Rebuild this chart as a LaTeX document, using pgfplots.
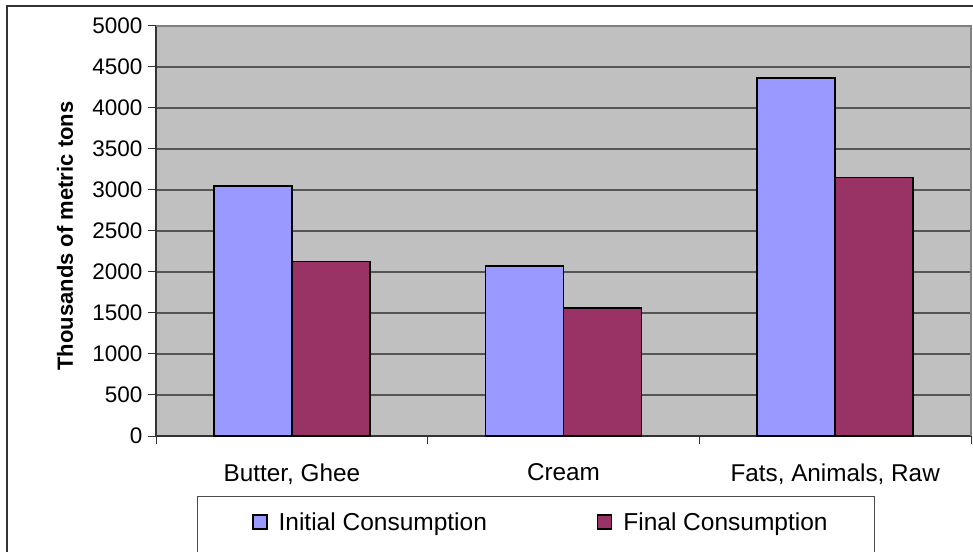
\documentclass[border=0pt]{standalone}
\usepackage{pgfplots}
\pgfplotsset{compat=1.18}
\usepackage{fontspec}
\setmainfont{Liberation Sans}
\definecolor{plotbg}{HTML}{C0C0C0}
\definecolor{ibl}{HTML}{9999FF}
\definecolor{fmar}{HTML}{993366}
\definecolor{gridc}{HTML}{555555}
\begin{document}
\begin{tikzpicture}[x=1pt,y=1pt]
\useasboundingbox (0,0) rectangle (973,551);
% outer chart frame
\draw[line width=1.3pt, color=black!80] (7,-5) -- (7,545) -- (980,545);
% legend frame
\draw[line width=1pt, color=black!70] (197,-5) rectangle (874,55);
\begin{axis}[
  at={(156pt,115pt)}, anchor=south west,
  width=815pt, height=410pt, scale only axis,
  xmin=-0.5, xmax=2.5, ymin=0, ymax=5000,
  ybar=0pt, bar width=78pt,
  xtick={0,1,2},
  xticklabels={{Butter, Ghee},{Cream},{Fats, Animals, Raw}},
  minor xtick={-0.5,0.5,1.5,2.5},
  ytick={0,500,...,5000},
  xtick pos=left, ytick pos=left,
  tick align=outside,
  major tick length=8pt, minor tick length=8pt,
  major x tick style={draw=none},
  tick style={line width=1pt, color=black!80},
  axis background/.style={fill=plotbg},
  axis line style={line width=1.3pt, color=black!80},
  ymajorgrids,
  major grid style={line width=1.2pt, color=gridc},
  /pgf/number format/.cd, set thousands separator={}, assume math mode=true, /pgfplots/.cd,
  yticklabel style={font=\fontsize{22.5}{27}\selectfont, xshift=-2pt},
  xticklabel style={font=\fontsize{24.3}{29}\selectfont, yshift=-16pt},
  ylabel={Thousands of metric tons},
  ylabel style={at={(axis description cs:-0.1117,0.4878)}, anchor=center, font=\bfseries\fontsize{22}{26}\selectfont},
  legend columns=2,
  legend style={draw=none, fill=none, inner sep=0pt, at={(axis description cs:0.1178,-0.2098)}, anchor=west,
    font=\fontsize{24.5}{29}\selectfont, cells={anchor=west},
    /tikz/every odd column/.append style={column sep=9pt},
    /tikz/every even column/.append style={column sep=108pt}},
  legend image code/.code={\draw[#1, line width=1.4pt] (0pt,-7pt) rectangle (14pt,7pt);},
  after end axis/.code={\draw[line width=1.2pt, color=gray] (rel axis cs:0,1) -- (rel axis cs:1,1) -- (rel axis cs:1,0);},
]
\addplot[fill=ibl, draw=black, line width=1.4pt] coordinates {(0,3050) (1,2075) (2,4365)};
\addplot[fill=fmar, draw=black, line width=1.4pt] coordinates {(0,2125) (1,1560) (2,3150)};
\legend{Initial Consumption, Final Consumption}
\end{axis}
\end{tikzpicture}
\end{document}
